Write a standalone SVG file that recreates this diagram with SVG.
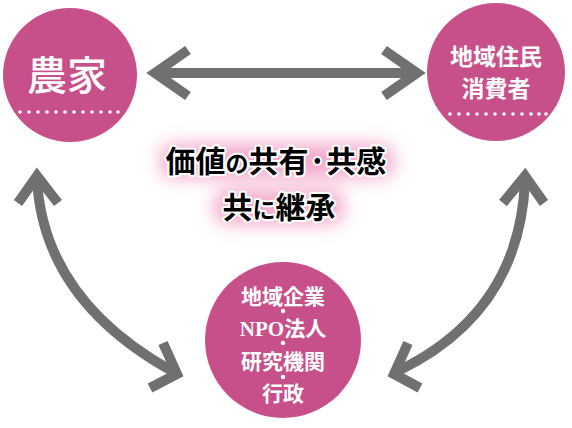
<svg xmlns="http://www.w3.org/2000/svg" width="572" height="428" viewBox="0 0 572 428">
<style>
.node{fill:#c8508a}
.wt{fill:#fff;font-family:"Liberation Serif","Noto Sans CJK JP",serif;font-weight:bold;text-anchor:middle}
.arr{fill:none;stroke:#707070;stroke-width:10;stroke-linejoin:miter;stroke-linecap:butt}
.ct{font-family:"Noto Sans CJK JP",sans-serif;font-weight:bold;font-size:30px;text-anchor:middle;fill:#000;stroke:#fff;stroke-width:4;paint-order:stroke;stroke-linejoin:round}
.dot{fill:#fff}
</style>
<defs>
<filter id="glow" x="-40%" y="-80%" width="180%" height="260%"><feGaussianBlur stdDeviation="9"/></filter>
</defs>
<rect width="572" height="428" fill="#fff"/>
<g id="connectors">
<path class="arr" d="M155 73H415"/>
<path class="arr" d="M188 50L155 73L188 96"/>
<path class="arr" d="M384 50L417 73L384 96"/>
<path class="arr" d="M37 180Q44 300 172 371"/>
<path class="arr" d="M18 203L37 176L58 203"/>
<path class="arr" d="M163 343L177 374L150 388"/>
<path class="arr" d="M525 180Q520 312 398 371"/>
<path class="arr" d="M503 203L525 176L544 203"/>
<path class="arr" d="M408 343L394 374L420 388"/>
</g>
<g id="center">
<g filter="url(#glow)" fill="#f4a9cc">
<rect x="160" y="144" width="234" height="34" rx="14"/>
<rect x="214" y="190" width="130" height="34" rx="14"/>
</g>
<text class="ct" x="276" y="172">価値<tspan font-size="23px">の</tspan>共有·共感</text>
<text class="ct" x="279" y="218">共<tspan font-size="23px">に</tspan>継承</text>
</g>
<g id="farmer">
<circle class="node" cx="70" cy="75" r="67"/>
<text class="wt" x="67" y="90" font-size="40" style="font-weight:500">農家</text>
<circle class="dot" cx="20" cy="112" r="1.8"/><circle class="dot" cx="29" cy="112" r="1.8"/><circle class="dot" cx="38" cy="112" r="1.8"/><circle class="dot" cx="47" cy="112" r="1.8"/><circle class="dot" cx="56" cy="112" r="1.8"/><circle class="dot" cx="65" cy="112" r="1.8"/><circle class="dot" cx="74" cy="112" r="1.8"/><circle class="dot" cx="83" cy="112" r="1.8"/><circle class="dot" cx="92" cy="112" r="1.8"/><circle class="dot" cx="101" cy="112" r="1.8"/><circle class="dot" cx="110" cy="112" r="1.8"/><circle class="dot" cx="118" cy="112" r="1.8"/>
</g>
<g id="residents">
<circle class="node" cx="496" cy="72" r="69"/>
<text class="wt" x="496" y="65" font-size="23">地域住民</text>
<text class="wt" x="496" y="97" font-size="23">消費者</text>
<circle class="dot" cx="450" cy="114" r="1.8"/><circle class="dot" cx="459" cy="114" r="1.8"/><circle class="dot" cx="468" cy="114" r="1.8"/><circle class="dot" cx="477" cy="114" r="1.8"/><circle class="dot" cx="486" cy="114" r="1.8"/><circle class="dot" cx="495" cy="114" r="1.8"/><circle class="dot" cx="504" cy="114" r="1.8"/><circle class="dot" cx="513" cy="114" r="1.8"/><circle class="dot" cx="522" cy="114" r="1.8"/><circle class="dot" cx="531" cy="114" r="1.8"/><circle class="dot" cx="539" cy="114" r="1.8"/><circle class="dot" cx="546" cy="114" r="1.8"/>
</g>
<g id="organizations">
<circle class="node" cx="283" cy="340" r="78"/>
<text class="wt" x="283" y="304" font-size="21">地域企業</text>
<circle class="dot" cx="283" cy="311" r="2.2"/>
<text class="wt" x="283" y="336" font-size="21">NPO法人</text>
<circle class="dot" cx="283" cy="343" r="2.2"/>
<text class="wt" x="283" y="369" font-size="21">研究機関</text>
<circle class="dot" cx="283" cy="377" r="2.2"/>
<text class="wt" x="283" y="401" font-size="21">行政</text>
</g>
</svg>
